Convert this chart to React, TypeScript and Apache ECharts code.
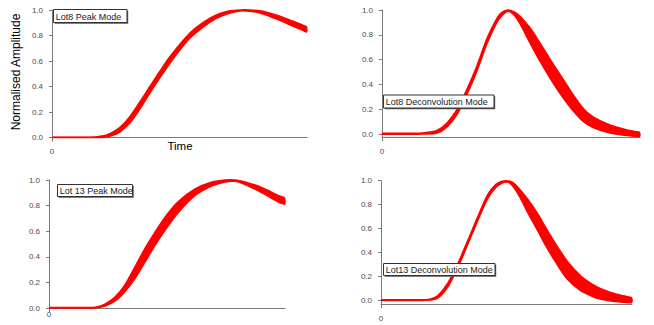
import React, { useEffect, useRef } from "react";
import * as echarts from "echarts";

// Time in arbitrary units (0..100 across each panel's time window)
const lot8PeakTime = [0, 11.0, 16.9, 20.8, 23.5, 26.7, 30.6, 34.5, 38.4, 42.4, 46.3, 50.2, 54.1, 58.0, 62.0, 65.9, 69.8, 73.7, 77.6, 81.6, 85.5, 89.4, 93.3, 97.3, 100];
const lot8PeakLow = [0, 0, 0, 0.003, 0.015, 0.045, 0.115, 0.225, 0.35, 0.472, 0.585, 0.688, 0.78, 0.847, 0.905, 0.948, 0.977, 0.993, 0.99, 0.977, 0.95, 0.92, 0.884, 0.85, 0.825];
const lot8PeakHigh = [0.002, 0.002, 0.004, 0.015, 0.038, 0.08, 0.165, 0.28, 0.4, 0.522, 0.635, 0.732, 0.82, 0.883, 0.935, 0.972, 0.993, 1.0, 1.0, 0.993, 0.974, 0.95, 0.92, 0.89, 0.865];

const lot8DeconTime = [0, 10.9, 15.9, 21.3, 25.2, 29.1, 32.9, 36.8, 40.7, 44.6, 46.5, 48.8, 51.2, 53.5, 57.4, 61.2, 65.1, 69.0, 72.9, 77.9, 81.8, 88.4, 95.0, 100];
const lot8DeconLow = [0, 0, 0.002, 0.01, 0.06, 0.16, 0.32, 0.51, 0.73, 0.905, 0.955, 0.99, 0.96, 0.89, 0.735, 0.59, 0.455, 0.33, 0.22, 0.105, 0.055, 0.01, -0.01, -0.02];
const lot8DeconHigh = [0.008, 0.008, 0.01, 0.03, 0.09, 0.2, 0.36, 0.55, 0.77, 0.935, 0.98, 1.0, 0.985, 0.95, 0.855, 0.735, 0.605, 0.48, 0.355, 0.21, 0.14, 0.075, 0.035, 0.015];

const lot13PeakTime = [0, 13.1, 19.5, 23.7, 28.0, 32.2, 36.4, 40.7, 44.9, 49.2, 54.7, 61.9, 69.1, 74.6, 78.8, 83.1, 90.3, 97.0, 100];
const lot13PeakLow = [0, 0, 0, 0.015, 0.055, 0.13, 0.23, 0.36, 0.49, 0.61, 0.745, 0.88, 0.955, 0.985, 0.99, 0.965, 0.9, 0.83, 0.81];
const lot13PeakHigh = [0.003, 0.003, 0.006, 0.03, 0.085, 0.18, 0.32, 0.465, 0.59, 0.71, 0.83, 0.93, 0.985, 1.0, 1.0, 0.985, 0.94, 0.88, 0.86];

const lot13DeconTime = [0, 15.5, 19.5, 22.7, 26.7, 30.7, 34.7, 38.6, 42.6, 45.8, 48.2, 49.8, 51.4, 53.4, 55.4, 58.6, 62.5, 66.1, 69.3, 74.1, 79.3, 84.1, 87.3, 93.2, 100];
const lot13DeconLow = [0, 0, 0.003, 0.02, 0.115, 0.28, 0.475, 0.67, 0.855, 0.945, 0.98, 0.99, 0.98, 0.93, 0.86, 0.73, 0.58, 0.44, 0.33, 0.18, 0.085, 0.035, 0.012, -0.01, -0.02];
const lot13DeconHigh = [0.005, 0.005, 0.01, 0.04, 0.145, 0.31, 0.505, 0.7, 0.885, 0.97, 0.995, 1.0, 0.995, 0.97, 0.925, 0.84, 0.72, 0.59, 0.48, 0.33, 0.21, 0.135, 0.1, 0.055, 0.022];

const yTickValues = [0, 0.2, 0.4, 0.6, 0.8, 1.0];
const xTickValues = [0];
const panelTitles = ["Lot8 Peak Mode", "Lot8 Deconvolution Mode", "Lot 13 Peak Mode", "Lot13 Deconvolution Mode"];
const yTitle = "Normalised Amplitude";
const xTitle = "Time";

const FONT = "Liberation Sans";
const RED = "#ff0000";
const AXIS = "#7a7a7a";
const LABEL = "#4a4a4a";
const SMOOTH = 0.5;

export default function App() {
  const ref = useRef<HTMLDivElement>(null);
  useEffect(() => {
    const chart = echarts.init(ref.current!, null, { renderer: "svg" });
    const panels = [
      { t: lot8PeakTime, lo: lot8PeakLow, hi: lot8PeakHigh, grid: { left: 52, top: 10, width: 255, height: 127.5 }, ymin: 0, xm: 10, box: [53.5, 9.5, 73.5, 13] },
      { t: lot8DeconTime, lo: lot8DeconLow, hi: lot8DeconHigh, grid: { left: 382, top: 10, width: 258, height: 127 }, ymin: -0.022, xm: 10, box: [383.5, 95, 110.5, 13] },
      { t: lot13PeakTime, lo: lot13PeakLow, hi: lot13PeakHigh, grid: { left: 49, top: 180, width: 236, height: 128 }, ymin: 0, xm: 2, box: [57.5, 184.5, 75, 12] },
      { t: lot13DeconTime, lo: lot13DeconLow, hi: lot13DeconHigh, grid: { left: 381, top: 180.7, width: 251, height: 123.6 }, ymin: -0.033, xm: 10, box: [383.5, 263.5, 111.5, 12] },
    ];

    const grids = panels.map((p) => ({ ...p.grid, containLabel: false }));
    const xAxes = panels.map((p, i) => ({
      type: "value",
      gridIndex: i,
      min: 0,
      max: 100,
      axisLine: { show: true, onZero: false, lineStyle: { color: AXIS, width: 1 } },
      axisTick: { show: true, length: 4, customValues: xTickValues, lineStyle: { color: AXIS } },
      axisLabel: { customValues: xTickValues, fontSize: 8, color: LABEL, margin: p.xm, fontFamily: FONT },
      splitLine: { show: false },
    }));
    const yAxes = panels.map((p, i) => ({
      type: "value",
      gridIndex: i,
      min: p.ymin,
      max: 1,
      axisLine: { show: true, onZero: false, lineStyle: { color: AXIS, width: 1 } },
      axisTick: { show: true, length: 3, customValues: yTickValues, lineStyle: { color: AXIS } },
      axisLabel: {
        customValues: yTickValues,
        fontSize: 8,
        color: LABEL,
        margin: 9,
        fontFamily: FONT,
        formatter: (v: number) => v.toFixed(1),
      },
      splitLine: { show: false },
    }));

    const series: any[] = [];
    panels.forEach((p, i) => {
      // filled band between the lower and upper envelope of the overlaid traces
      series.push({
        type: "custom",
        xAxisIndex: i,
        yAxisIndex: i,
        silent: true,
        encode: { x: 0, y: [1, 2] },
        data: p.t.map((t, k) => [t, p.lo[k], p.hi[k]]),
        renderItem: (params: any, api: any) => {
          if (params.dataIndexInside !== 0) return null;
          const n = params.dataInsideLength;
          const top: number[][] = [];
          const bot: number[][] = [];
          for (let k = 0; k < n; k++) {
            top.push(api.coord([api.value(0, k), api.value(2, k)]));
            bot.push(api.coord([api.value(0, k), api.value(1, k)]));
          }
          return {
            type: "group",
            children: [
              { type: "polyline", shape: { points: top, smooth: SMOOTH * 0.6 }, style: { stroke: RED, lineWidth: 1.6, fill: "none" } },
              { type: "polyline", shape: { points: bot, smooth: SMOOTH * 0.6 }, style: { stroke: RED, lineWidth: 1.6, fill: "none" } },
              { type: "polygon", shape: { points: top.concat(bot.slice().reverse()), smooth: SMOOTH * 0.6 }, style: { fill: RED, stroke: "none" } },
            ],
          };
        },
        z: 2,
      });
    });

    const graphic: any[] = [];
    panels.forEach((p, i) => {
      const [x, y, w, h] = p.box;
      graphic.push({ type: "rect", shape: { x: x + 1.2, y: y + 1.2, width: w, height: h }, style: { fill: "#555" }, z: 100 });
      graphic.push({ type: "rect", shape: { x, y, width: w, height: h }, style: { fill: "#fff", stroke: "#333", lineWidth: 1 }, z: 101 });
      graphic.push({
        type: "text",
        x: x + 2.3,
        y: y + h / 2 + 0.5,
        z: 102,
        style: { text: panelTitles[i], font: `9px "${FONT}"`, fill: "#222", verticalAlign: "middle", align: "left" },
      });
    });
    graphic.push({
      type: "text",
      x: 16,
      y: 72,
      rotation: Math.PI / 2,
      style: { text: yTitle, font: `12px "${FONT}"`, fill: "#000", align: "center", verticalAlign: "middle" },
    });
    graphic.push({
      type: "text",
      x: 180,
      y: 146,
      style: { text: xTitle, font: `11.5px "${FONT}"`, fill: "#000", align: "center", verticalAlign: "middle" },
    });

    chart.setOption({
      animation: false,
      backgroundColor: "#fff",
      grid: grids,
      xAxis: xAxes,
      yAxis: yAxes,
      series,
      graphic,
    });
    return () => chart.dispose();
  }, []);
  return <div ref={ref} style={{ position: "fixed", left: 0, top: 0, width: 654, height: 325, background: "#fff" }} />;
}
